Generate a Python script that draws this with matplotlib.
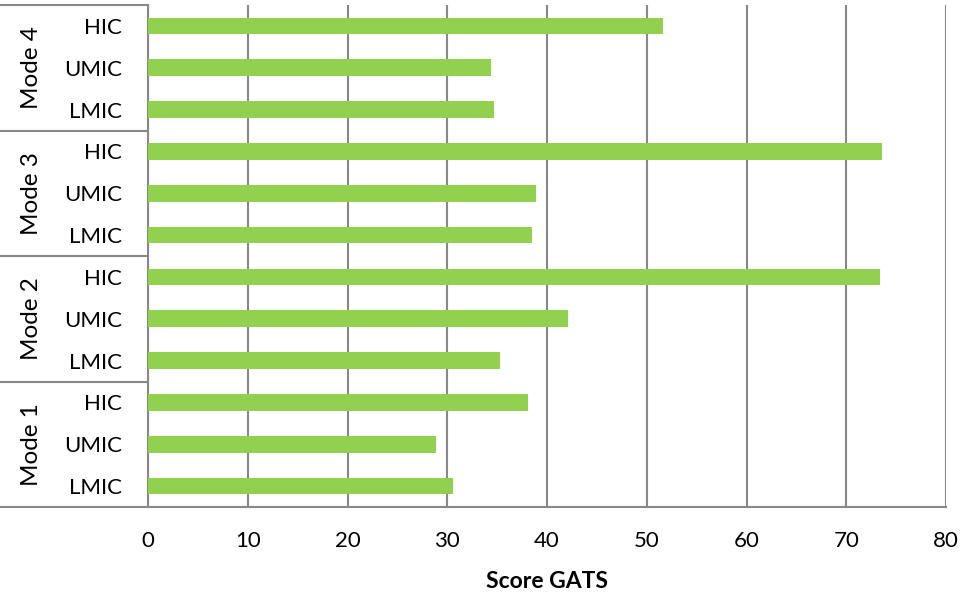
import numpy as np
import matplotlib.pyplot as plt
from matplotlib.transforms import blended_transform_factory

# GATS scores by mode and income group (bottom to top)
modes = ["Mode 1", "Mode 2", "Mode 3", "Mode 4"]
groups = ["LMIC", "UMIC", "HIC"]
mode1 = [30.6, 28.9, 38.1]
mode2 = [35.3, 42.1, 73.4]
mode3 = [38.5, 38.9, 73.6]
mode4 = [34.7, 34.4, 51.6]

scores = mode1 + mode2 + mode3 + mode4
labels = groups * len(modes)
pos = np.arange(len(scores))

plt.rcParams['font.family'] = ['Lato', 'DejaVu Sans']
grid_col = '#888888'
bar_col = '#92D050'

fig = plt.figure(figsize=(9.61, 5.95), dpi=100)
ax = fig.add_axes([148 / 961, 1 - 507 / 595, 798 / 961, 502 / 595])

ax.barh(pos, scores, height=0.4, color=bar_col, zorder=3)

ax.set_xlim(0, 80)
ax.set_ylim(-0.5, len(scores) - 0.5)
ax.set_xticks(np.arange(0, 81, 10))
ax.set_yticks(pos)
ax.set_yticklabels(labels)
ax.tick_params(axis='both', length=0, labelsize=16)
ax.tick_params(axis='y', pad=18.5)
ax.tick_params(axis='x', pad=17.5)
ax.grid(axis='x', color=grid_col, linewidth=1.5, zorder=1)

for side in ['top', 'right']:
    ax.spines[side].set_visible(False)
for side in ['left', 'bottom']:
    ax.spines[side].set_color(grid_col)
    ax.spines[side].set_linewidth(1.5)

ax.set_xlabel("Score GATS", fontsize=16.5, fontweight='bold', labelpad=14)

# Outer category axis: mode boxes on the left
trans = blended_transform_factory(ax.transAxes, ax.transData)
x0 = -148 / 798
for k in range(len(modes) + 1):
    yb = k * 3 - 0.5
    ax.plot([x0, 0], [yb, yb], color=grid_col, lw=1.5, transform=trans,
            clip_on=False, solid_capstyle='butt')
for k, name in enumerate(modes):
    ax.text(-116 / 798, k * 3 + 1, name, transform=trans, rotation=90,
            ha='center', va='center', fontsize=17.5)

fig.savefig("out.png", dpi=100)
